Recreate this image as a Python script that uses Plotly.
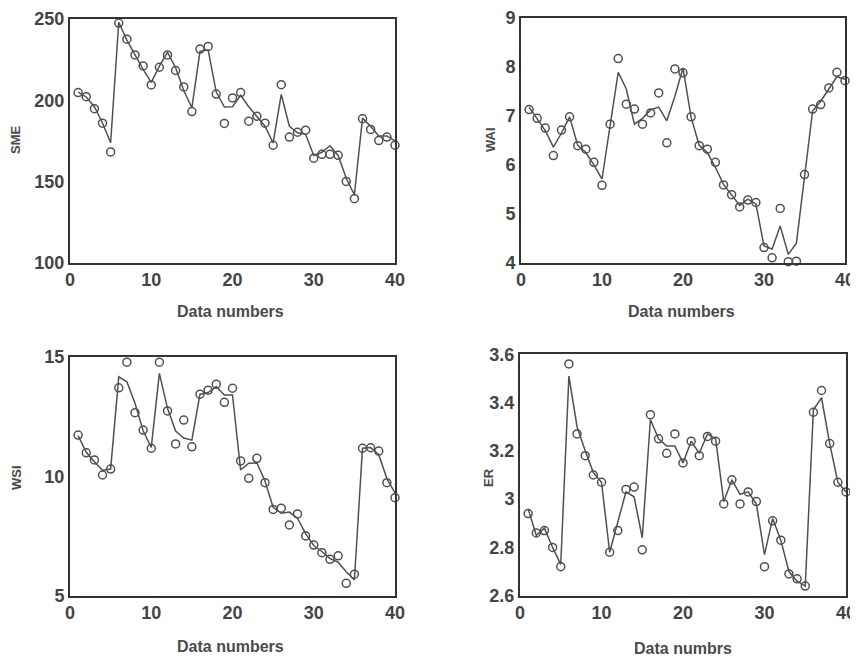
import plotly.graph_objects as go

x_vals = list(range(1, 41))

# SME panel
sme_obs = [204.7, 202.2, 194.8, 185.9, 168.2, 247.5, 237.6, 227.9, 221.1, 209.4,
           220.3, 227.9, 218.3, 208.2, 193.0, 231.5, 233.1, 203.8, 185.7, 201.4,
           204.7, 187.1, 190.2, 185.9, 172.3, 209.6, 177.3, 180.3, 181.6, 164.3,
           166.7, 166.7, 166.1, 150.0, 139.4, 188.6, 182.0, 175.2, 177.3, 172.3]
sme_pred = [205, 202, 196, 186, 173.8, 248, 237, 228, 219, 211,
            221, 229.4, 220, 206, 195.4, 230, 231, 205, 195.8, 196,
            203, 196, 190, 184, 173.7, 203.6, 184, 180, 179, 166,
            168, 172, 166, 152, 141.8, 189, 184, 178, 178, 175]

# WAI panel
wai_obs = [7.13, 6.95, 6.75, 6.19, 6.71, 6.98, 6.39, 6.32, 6.05, 5.58,
           6.83, 8.17, 7.24, 7.14, 6.83, 7.06, 7.47, 6.45, 7.96, 7.88,
           6.98, 6.39, 6.32, 6.05, 5.59, 5.39, 5.14, 5.28, 5.23, 4.31,
           4.10, 5.11, 4.02, 4.03, 5.80, 7.14, 7.23, 7.57, 7.89, 7.72]
wai_pred = [7.18, 6.95, 6.70, 6.36, 6.65, 6.98, 6.40, 6.25, 6.00, 5.71,
            6.85, 7.89, 7.55, 6.83, 6.95, 7.12, 7.18, 6.90, 7.40, 7.98,
            6.97, 6.40, 6.25, 5.95, 5.60, 5.38, 5.17, 5.30, 5.20, 4.34,
            4.28, 4.75, 4.17, 4.40, 5.70, 7.10, 7.30, 7.55, 7.80, 7.75]

# WSI panel
wsi_obs = [11.72, 10.98, 10.68, 10.05, 10.30, 13.70, 14.77, 12.66, 11.93, 11.17,
           14.77, 12.73, 11.35, 12.35, 11.23, 13.43, 13.60, 13.85, 13.09, 13.68,
           10.64, 9.91, 10.75, 9.73, 8.61, 8.66, 7.96, 8.42, 7.50, 7.12,
           6.80, 6.52, 6.67, 5.52, 5.90, 11.17, 11.19, 11.05, 9.73, 9.10]
wsi_pred = [11.70, 11.00, 10.60, 10.25, 10.30, 14.16, 13.95, 13.05, 11.90, 11.20,
            14.30, 12.84, 11.89, 11.60, 11.51, 13.43, 13.50, 13.75, 13.40, 13.40,
            10.26, 10.54, 10.55, 9.80, 8.70, 8.45, 8.50, 8.24, 7.60, 7.10,
            6.85, 6.55, 6.40, 6.00, 5.66, 11.17, 11.20, 10.90, 9.90, 9.30]

# ER panel
er_obs = [2.94, 2.86, 2.87, 2.80, 2.72, 3.56, 3.27, 3.18, 3.10, 3.07,
          2.78, 2.87, 3.04, 3.05, 2.79, 3.35, 3.25, 3.19, 3.27, 3.15,
          3.24, 3.18, 3.26, 3.24, 2.98, 3.08, 2.98, 3.03, 2.99, 2.72,
          2.91, 2.83, 2.69, 2.67, 2.64, 3.36, 3.45, 3.23, 3.07, 3.03]
er_pred = [2.96, 2.85, 2.88, 2.80, 2.73, 3.51, 3.30, 3.20, 3.11, 3.07,
           2.78, 2.90, 3.03, 3.01, 2.84, 3.33, 3.25, 3.22, 3.22, 3.15,
           3.24, 3.19, 3.27, 3.25, 2.99, 3.08, 3.02, 3.03, 2.98, 2.77,
           2.92, 2.83, 2.70, 2.66, 2.64, 3.37, 3.42, 3.23, 3.07, 3.03]

x_ticks = [0, 10, 20, 30, 40]

# page has an 8px body margin: figure occupies window pixels 8..858 x 8..658
OFF = 8
W, H = 858 - OFF, 658 - OFF


def fx(px):
    return (px - OFF) / W


def fy(py):
    return 1 - (py - OFF) / H


panels = [
    dict(obs=sme_obs, pred=sme_pred, yrange=[100, 250], ytick=[100, 150, 200, 250],
         box=(70, 395, 19, 262.7)),
    dict(obs=wai_obs, pred=wai_pred, yrange=[4, 9], ytick=[4, 5, 6, 7, 8, 9],
         box=(521, 845, 18, 262.7)),
    dict(obs=wsi_obs, pred=wsi_pred, yrange=[5, 15], ytick=[5, 10, 15],
         box=(70, 395, 356.7, 595.7)),
    dict(obs=er_obs, pred=er_pred, yrange=[2.6, 3.6], ytick=[2.6, 2.8, 3.0, 3.2, 3.4, 3.6],
         box=(520, 846, 354.3, 595.7)),
]

fig = go.Figure()
tick_font = dict(family="Liberation Sans, Arial, sans-serif", size=18, color="#444444", weight="bold")
line_col = "#505050"

for i, p in enumerate(panels):
    n = "" if i == 0 else str(i + 1)
    xa, ya = "x" + n, "y" + n
    x0, x1, y0, y1 = p["box"]
    fig.add_trace(go.Scatter(x=x_vals, y=p["pred"], mode="lines",
                             line=dict(color=line_col, width=1.5),
                             xaxis=xa, yaxis=ya, showlegend=False, cliponaxis=False))
    fig.add_trace(go.Scatter(x=x_vals, y=p["obs"], mode="markers",
                             marker=dict(symbol="circle-open", size=8, color=line_col,
                                         line=dict(width=1.5, color=line_col)),
                             xaxis=xa, yaxis=ya, showlegend=False, cliponaxis=False))
    fig.layout["xaxis" + n] = dict(domain=[fx(x0), fx(x1)], anchor=ya, range=[0, 40],
                                   tickvals=x_ticks, showgrid=False, zeroline=False,
                                   showline=True, mirror=True, linecolor="#333", linewidth=2,
                                   ticks="", tickfont=tick_font, automargin=False,
                                   ticklabeloverflow="allow")
    fig.layout["yaxis" + n] = dict(domain=[fy(y1), fy(y0)], anchor=xa, range=p["yrange"],
                                   tickvals=p["ytick"], showgrid=False, zeroline=False,
                                   showline=True, mirror=True, linecolor="#333", linewidth=2,
                                   ticks="", tickfont=tick_font, automargin=False,
                                   ticklabeloverflow="allow")

title_font = dict(family="Liberation Sans, Arial, sans-serif", size=16, color="#4a4a4a", weight="bold")
ylab_font = dict(family="Liberation Sans, Arial, sans-serif", size=13, color="#4a4a4a", weight="bold")

annos = [
    ("SME", 16, 140, -90, ylab_font),
    ("WAI", 491, 140, -90, ylab_font),
    ("WSI", 16, 477, -90, ylab_font),
    ("ER", 488, 478, -90, ylab_font),
    ("Data numbers", 231, 312, 0, title_font),
    ("Data numbers", 681, 312, 0, title_font),
    ("Data numbers", 231, 646, 0, title_font),
    ("Data numbrs", 683, 648, 0, title_font),
]
for text, px, py, ang, f in annos:
    fig.add_annotation(text=text, x=fx(px), y=fy(py), xref="paper", yref="paper",
                       xanchor="center", yanchor="middle", showarrow=False,
                       textangle=ang, font=f)

fig.update_layout(width=W, height=H, margin=dict(l=0, r=0, t=0, b=0, autoexpand=False),
                  paper_bgcolor="white", plot_bgcolor="white")

fig.write_html("out.html")
